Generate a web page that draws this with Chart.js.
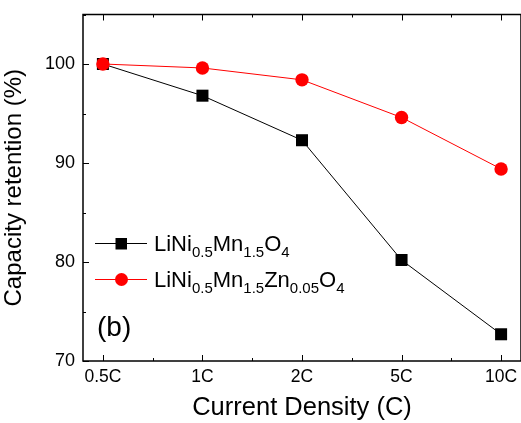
<!DOCTYPE html>
<html>
<head>
<meta charset="utf-8">
<script src="https://cdn.jsdelivr.net/npm/chart.js@4/dist/chart.umd.min.js"></script>
<style>
  html, body { margin: 0; padding: 0; background: #fff; }
  #wrap { width: 521px; height: 423px; }
</style>
</head>
<body>
<div id="wrap"><canvas id="myChart" width="521" height="423"></canvas></div>
<script>
// values
const categories = ['0.5C', '1C', '2C', '5C', '10C'];
const pristine = [100, 96.8, 92.3, 80.2, 72.7];
const zincDoped = [100, 99.6, 98.4, 94.6, 89.4];
const yTicks = [70, 80, 90, 100];

// legend labels, [text, subscript?]
const pristineLabel = [['LiNi', 0], ['0.5', 1], ['Mn', 0], ['1.5', 1], ['O', 0], ['4', 1]];
const zincLabel = [['LiNi', 0], ['0.5', 1], ['Mn', 0], ['1.5', 1], ['Zn', 0], ['0.05', 1], ['O', 0], ['4', 1]];

const FONT = "'Liberation Sans', Arial, sans-serif";

const toPoints = arr => arr.map((v, i) => ({ x: i, y: v }));

// frame + inward ticks + legend + panel label
const decor = {
    id: 'decor',
    afterDraw(chart) {
        const { ctx, chartArea: a, scales } = chart;
        const xs = scales.x, ys = scales.y;
        ctx.save();
        ctx.strokeStyle = '#000';
        ctx.lineWidth = 1.5;
        ctx.strokeRect(a.left, a.top, a.right - a.left, a.bottom - a.top);

        ctx.lineWidth = 1;
        ctx.beginPath();
        for (let i = 0; i < categories.length; i++) {
            const px = Math.round(xs.getPixelForValue(i)) + 0.5;
            ctx.moveTo(px, a.bottom); ctx.lineTo(px, a.bottom - 6);
            ctx.moveTo(px, a.top); ctx.lineTo(px, a.top + 6);
            if (i < categories.length - 1) {
                const mx = Math.round(xs.getPixelForValue(i + 0.5)) + 0.5;
                ctx.moveTo(mx, a.bottom); ctx.lineTo(mx, a.bottom - 3);
                ctx.moveTo(mx, a.top); ctx.lineTo(mx, a.top + 3);
            }
        }
        for (let v = 70; v <= 105; v += 5) {
            const py = Math.round(ys.getPixelForValue(v)) + 0.5;
            const len = v % 10 === 0 ? 6 : 3;
            ctx.moveTo(a.left, py); ctx.lineTo(a.left + len, py);
        }
        ctx.stroke();

        // legend
        const rows = [
            { label: pristineLabel, color: '#000', style: 'rect', y: 243 },
            { label: zincLabel, color: '#ff0000', style: 'circle', y: 279 }
        ];
        rows.forEach(r => {
            ctx.strokeStyle = r.color;
            ctx.fillStyle = r.color;
            ctx.lineWidth = 1;
            ctx.beginPath();
            ctx.moveTo(95, r.y + 0.5); ctx.lineTo(147, r.y + 0.5);
            ctx.stroke();
            ctx.beginPath();
            if (r.style === 'rect') ctx.rect(115.5, r.y - 5, 11.5, 11.5);
            else ctx.arc(121.5, r.y + 0.5, 6.5, 0, Math.PI * 2);
            ctx.fill();

            ctx.fillStyle = '#000';
            ctx.textBaseline = 'alphabetic';
            let x = 154;
            r.label.forEach(([t, sub]) => {
                ctx.font = (sub ? '15px ' : '22px ') + FONT;
                ctx.fillText(t, x, r.y + (sub ? 14 : 8));
                x += ctx.measureText(t).width;
            });
        });

        ctx.fillStyle = '#000';
        ctx.font = '28px ' + FONT;
        ctx.textBaseline = 'alphabetic';
        ctx.fillText('(b)', 97, 336);
        ctx.restore();
    }
};

const ctx = document.getElementById('myChart').getContext('2d');

new Chart(ctx, {
    type: 'line',
    data: {
        datasets: [
            {
                label: 'LiNi0.5Mn1.5O4',
                data: toPoints(pristine),
                borderColor: '#000',
                backgroundColor: '#000',
                borderWidth: 1,
                pointStyle: 'rect',
                pointRadius: 8.5,
                pointBorderWidth: 0,
                tension: 0,
                clip: false,
                order: 1
            },
            {
                label: 'LiNi0.5Mn1.5Zn0.05O4',
                data: toPoints(zincDoped),
                borderColor: '#ff0000',
                backgroundColor: '#ff0000',
                borderWidth: 1,
                pointStyle: 'circle',
                pointRadius: 6.7,
                pointBorderWidth: 0,
                tension: 0,
                clip: false,
                order: 0
            }
        ]
    },
    options: {
        responsive: false,
        animation: false,
        layout: { autoPadding: false, padding: { top: 14.5, right: 0, left: 0, bottom: 0 } },
        plugins: { legend: { display: false }, tooltip: { enabled: false } },
        scales: {
            x: {
                type: 'linear',
                min: -0.2,
                max: 4.2,
                grid: { display: false, drawTicks: false },
                border: { display: false },
                afterBuildTicks: s => { s.ticks = categories.map((c, i) => ({ value: i })); },
                afterFit: s => { s.height = 62; s.paddingLeft = 0; s.paddingRight = 0; },
                ticks: {
                    color: '#000',
                    padding: 6,
                    font: { family: FONT, size: 17.5 },
                    maxRotation: 0,
                    callback: v => categories[v]
                },
                title: {
                    display: true,
                    text: 'Current Density (C)',
                    color: '#000',
                    font: { family: FONT, size: 25.5 },
                    padding: { top: 0, bottom: 0 }
                }
            },
            y: {
                min: 70,
                max: 105,
                grid: { display: false, drawTicks: false },
                border: { display: false },
                afterBuildTicks: s => { s.ticks = yTicks.map(v => ({ value: v })); },
                afterFit: s => { s.width = 83; s.paddingTop = 0; s.paddingBottom = 0; },
                ticks: {
                    color: '#000',
                    padding: 8,
                    font: { family: FONT, size: 18 }
                },
                title: {
                    display: true,
                    text: 'Capacity retention (%)',
                    color: '#000',
                    font: { family: FONT, size: 24 },
                    padding: { top: 0, bottom: 8 }
                }
            }
        }
    },
    plugins: [decor]
});
</script>
</body>
</html>
